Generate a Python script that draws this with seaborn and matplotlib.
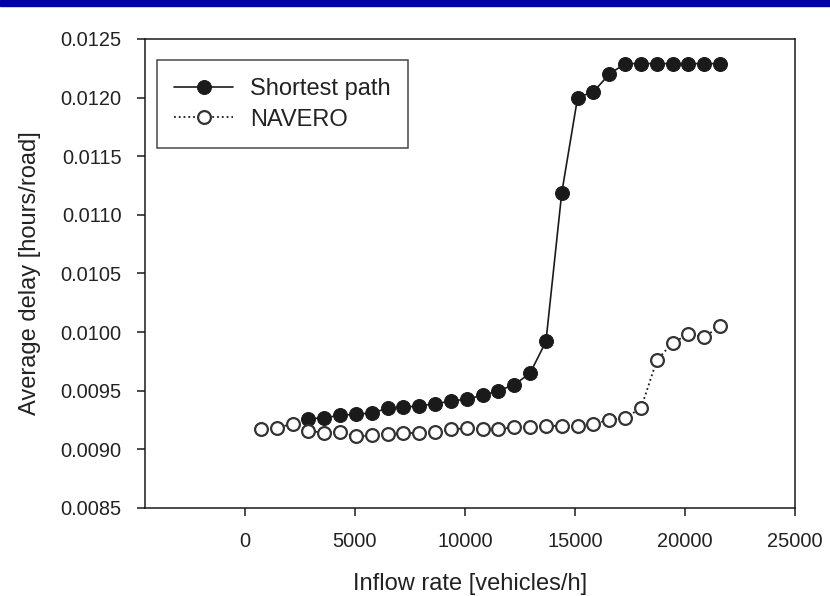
import numpy as np
import pandas as pd
import seaborn as sns
import matplotlib.pyplot as plt
from matplotlib.patches import Rectangle
from matplotlib.ticker import FormatStrFormatter

# inflow rates (vehicles/h), one step = 720
inflow_navero = [720, 1440, 2160, 2880, 3600, 4320, 5040, 5760, 6480, 7200,
                 7920, 8640, 9360, 10080, 10800, 11520, 12240, 12960, 13680, 14400,
                 15120, 15840, 16560, 17280, 18000, 18720, 19440, 20160, 20880, 21600]
inflow_shortest = inflow_navero[3:]

delay_shortest = [0.00926, 0.00927, 0.00929, 0.00930, 0.00931, 0.00935, 0.00936, 0.00937,
                  0.00939, 0.00941, 0.00943, 0.00946, 0.00950, 0.00955, 0.00965, 0.00992,
                  0.01119, 0.01200, 0.01205, 0.01220, 0.01229, 0.01229, 0.01229, 0.01229,
                  0.01229, 0.01229, 0.01229]
delay_navero = [0.00917, 0.00918, 0.00922, 0.00916, 0.00914, 0.00915, 0.00911, 0.00912,
                0.00913, 0.00914, 0.00914, 0.00915, 0.00917, 0.00918, 0.00917, 0.00917,
                0.00919, 0.00919, 0.00920, 0.00920, 0.00920, 0.00922, 0.00925, 0.00927,
                0.00935, 0.00976, 0.00991, 0.00998, 0.00996, 0.01005]

sns.set_style('ticks')
plt.rcParams['font.family'] = ['Liberation Sans', 'DejaVu Sans']
ink = '#1a1a1a'

fig = plt.figure(figsize=(8.3, 5.96), dpi=100)
ax = fig.add_axes([0.1747, 0.1477, 0.7831, 0.7869])

# blue strip of the slide header
fig.patches.append(Rectangle((0, 0.99), 1, 0.01, transform=fig.transFigure,
                             color='#0000a0', zorder=5))

sns.lineplot(x=inflow_shortest, y=delay_shortest, ax=ax, color=ink, lw=1.2,
             marker='o', markersize=10, markerfacecolor=ink, markeredgecolor=ink,
             label='Shortest path')
sns.lineplot(x=inflow_navero, y=delay_navero, ax=ax, color=ink, lw=1.3, linestyle=':',
             marker='o', markersize=9.2, markerfacecolor='white', markeredgecolor='#333333',
             markeredgewidth=1.6, label='NAVERO')

ax.set_xlim(-4545, 25000)
ax.set_ylim(0.0085, 0.0125)
ax.set_xticks([0, 5000, 10000, 15000, 20000, 25000])
ax.set_yticks(np.arange(0.0085, 0.01251, 0.0005))
ax.yaxis.set_major_formatter(FormatStrFormatter('%.4f'))

for s in ax.spines.values():
    s.set_visible(True)
    s.set_linewidth(1.1)
    s.set_color(ink)
ax.tick_params(direction='out', length=6, width=1.1, color=ink, labelsize=14.4,
               labelcolor='#222222', pad=11)

ax.set_xlabel('Inflow rate [vehicles/h]', fontsize=17, color='#222222', labelpad=16)
ax.set_ylabel('Average delay [hours/road]', fontsize=17, color='#222222', labelpad=14)

leg = ax.legend(loc='upper left', bbox_to_anchor=(0.018, 0.955), borderaxespad=0,
                fontsize=17, frameon=True, fancybox=False, edgecolor=ink,
                handlelength=2.5, handletextpad=0.7, borderpad=0.75, labelspacing=0.38)
leg.get_frame().set_linewidth(1.1)
for t in leg.get_texts():
    t.set_color('#222222')

fig.savefig('out.png', dpi=100)
